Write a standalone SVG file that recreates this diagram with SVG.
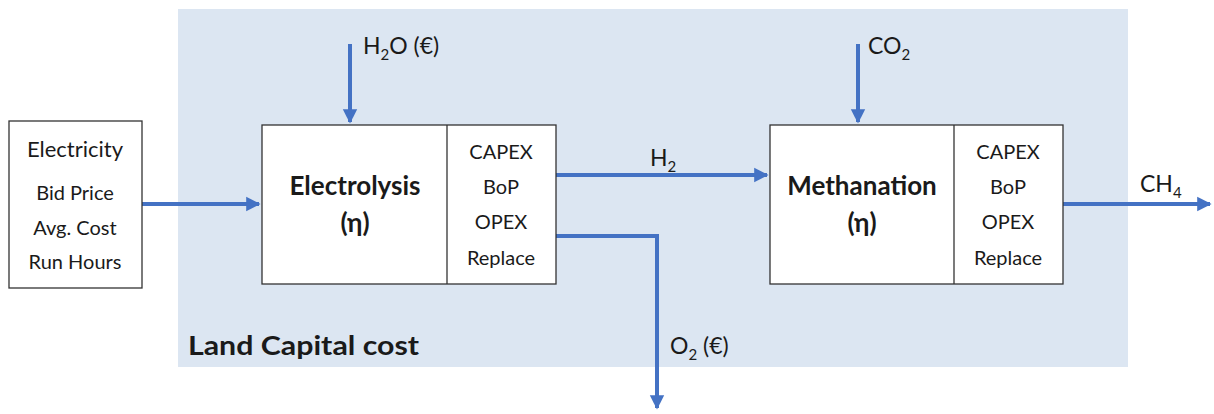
<svg xmlns="http://www.w3.org/2000/svg" width="1214" height="414" viewBox="0 0 1214 414">
  <defs>
    <marker id="arrow" markerWidth="4" markerHeight="4" refX="3.2" refY="2" orient="auto" markerUnits="strokeWidth">
      <path d="M0,0.2 L3.6,2 L0,3.8 Z" fill="#4472c4"/>
    </marker>
    <style>
      text { font-family: Lato, "Open Sans", "Liberation Sans", sans-serif; fill: #1a1a1a; }
      .box { fill: #ffffff; stroke: #333333; stroke-width: 1.3; }
      .flow { fill: none; stroke: #4472c4; stroke-width: 4; }
      .item { font-size: 20px; text-anchor: middle; }
      .title { font-size: 26px; font-weight: bold; text-anchor: middle; }
      .lbl { font-size: 23px; }
      .sub { font-size: 15px; }
    </style>
  </defs>
  <rect width="1214" height="414" fill="#ffffff"/>

  <!-- plant boundary -->
  <g id="plant">
    <rect x="178" y="9" width="950" height="358" fill="#dce6f2"/>
    <text x="188" y="355" textLength="231" lengthAdjust="spacingAndGlyphs" style="font-size:26px;font-weight:bold">Land Capital cost</text>
  </g>

  <!-- connectors -->
  <g id="connectors">
    <line class="flow" x1="142" y1="204" x2="259" y2="204" marker-end="url(#arrow)"/>
    <line class="flow" x1="350" y1="44" x2="350" y2="122" marker-end="url(#arrow)"/>
    <line class="flow" x1="858" y1="44" x2="858" y2="122" marker-end="url(#arrow)"/>
    <line class="flow" x1="556" y1="175" x2="767" y2="175" marker-end="url(#arrow)"/>
    <polyline class="flow" points="556,236 657,236 657,408" marker-end="url(#arrow)"/>
    <line class="flow" x1="1063" y1="204" x2="1210" y2="204" marker-end="url(#arrow)"/>
    <text x="363" y="54" class="lbl">H<tspan class="sub" dy="6">2</tspan><tspan dy="-6">O (€)</tspan></text>
    <text x="868" y="54" class="lbl">CO<tspan class="sub" dy="6">2</tspan></text>
    <text x="650" y="166" class="lbl">H<tspan class="sub" dy="6">2</tspan></text>
    <text x="1140" y="192" class="lbl">CH<tspan class="sub" dy="6">4</tspan></text>
    <text x="670" y="354" class="lbl">O<tspan class="sub" dy="6">2</tspan><tspan dy="-6"> (€)</tspan></text>
  </g>

  <!-- electricity input -->
  <g id="electricity">
    <rect class="box" x="9" y="121" width="133" height="167"/>
    <text x="75" y="157" style="font-size:22px;text-anchor:middle">Electricity</text>
    <text x="75" y="200" class="item">Bid Price</text>
    <text x="75" y="235" class="item">Avg. Cost</text>
    <text x="75" y="269" class="item">Run Hours</text>
  </g>

  <!-- electrolysis unit -->
  <g id="electrolysis">
    <rect class="box" x="262" y="125" width="294" height="159"/>
    <line x1="447" y1="125" x2="447" y2="284" stroke="#333333" stroke-width="1.3"/>
    <text x="355" y="195" class="title">Electrolysis</text>
    <text x="355" y="232" class="title">(η)</text>
    <text x="501" y="159" class="item">CAPEX</text>
    <text x="501" y="194" class="item">BoP</text>
    <text x="501" y="229" class="item">OPEX</text>
    <text x="501" y="265" class="item">Replace</text>
  </g>

  <!-- methanation unit -->
  <g id="methanation">
    <rect class="box" x="770" y="125" width="293" height="159"/>
    <line x1="954" y1="125" x2="954" y2="284" stroke="#333333" stroke-width="1.3"/>
    <text x="862" y="195" class="title">Methanation</text>
    <text x="862" y="232" class="title">(η)</text>
    <text x="1008" y="159" class="item">CAPEX</text>
    <text x="1008" y="194" class="item">BoP</text>
    <text x="1008" y="229" class="item">OPEX</text>
    <text x="1008" y="265" class="item">Replace</text>
  </g>
</svg>
